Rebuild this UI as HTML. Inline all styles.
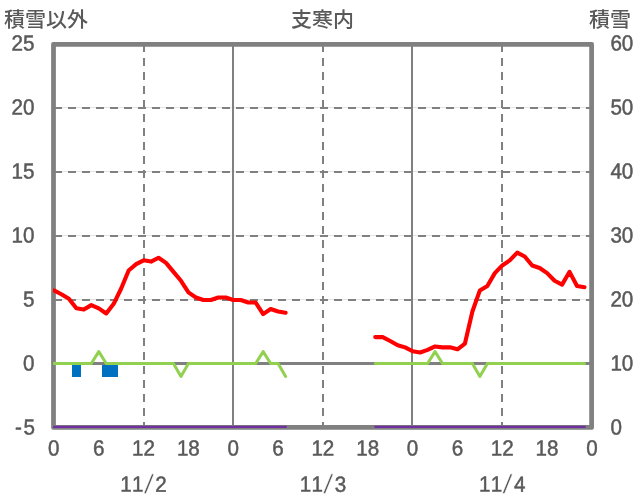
<!DOCTYPE html>
<html lang="ja">
<head>
<meta charset="utf-8">
<title>支寒内</title>
<style>
html,body{margin:0;padding:0;background:#fff;}
body{width:636px;height:501px;overflow:hidden;}
svg{display:block;}
text{font-family:"Liberation Sans","Noto Sans CJK JP",sans-serif;fill:#595959;text-rendering:geometricPrecision;font-kerning:none;}
text.n{stroke:#595959;stroke-width:0.5px;stroke-linejoin:round;}
text .s{stroke:#fff;stroke-width:0.5px;}
text.j{font-weight:500;text-rendering:auto;}
</style>
</head>
<body>
<svg width="636" height="501" viewBox="0 0 636 501">
<rect x="0" y="0" width="636" height="501" fill="#fff"/>
<line x1="54" x2="590" y1="107.5" y2="107.5" stroke="#e2e2e2" stroke-width="1"/>
<line x1="54" x2="590" y1="108" y2="108" stroke="#808080" stroke-width="2" stroke-dasharray="8 6"/>
<line x1="54" x2="590" y1="171.5" y2="171.5" stroke="#e2e2e2" stroke-width="1"/>
<line x1="54" x2="590" y1="172" y2="172" stroke="#808080" stroke-width="2" stroke-dasharray="8 6"/>
<line x1="54" x2="590" y1="235.5" y2="235.5" stroke="#e2e2e2" stroke-width="1"/>
<line x1="54" x2="590" y1="236" y2="236" stroke="#808080" stroke-width="2" stroke-dasharray="8 6"/>
<line x1="54" x2="590" y1="299.5" y2="299.5" stroke="#e2e2e2" stroke-width="1"/>
<line x1="54" x2="590" y1="300" y2="300" stroke="#808080" stroke-width="2" stroke-dasharray="8 6"/>
<line y1="44" y2="426" x1="144" x2="144" stroke="#808080" stroke-width="2" stroke-dasharray="8 6"/>
<line y1="44" y2="426" x1="323" x2="323" stroke="#808080" stroke-width="2" stroke-dasharray="8 6"/>
<line y1="44" y2="426" x1="502" x2="502" stroke="#808080" stroke-width="2" stroke-dasharray="8 6"/>
<line y1="44" y2="426" x1="233" x2="233" stroke="#808080" stroke-width="2"/>
<line y1="44" y2="426" x1="412" x2="412" stroke="#808080" stroke-width="2"/>
<rect x="72" y="363" width="9" height="14" fill="#0070C0"/>
<rect x="102" y="363" width="16" height="14" fill="#0070C0"/>
<line x1="54" x2="590" y1="363.5" y2="363.5" stroke="#808080" stroke-width="3"/>
<path fill="#808080" fill-rule="evenodd" d="M53.125 42.025H591.975A2.0 2.0 0 0 1 593.975 44.025V427.775A2.0 2.0 0 0 1 591.975 429.775H53.125A2.0 2.0 0 0 1 51.125 427.775V44.025A2.0 2.0 0 0 1 53.125 42.025ZM55.875 46.775V425.025H589.225V46.775Z"/>
<clipPath id="pc"><rect x="53.1" y="40" width="541" height="392"/></clipPath>
<g clip-path="url(#pc)" fill="none" stroke-linejoin="round" stroke-linecap="round">
<path d="M53.93 426.85H285.98M375.26 426.85H584.89" stroke="#7030A0" stroke-width="2.1"/>
<path d="M53.93 363.50 L61.40 363.50 L68.88 363.50 L76.35 363.50 L83.82 363.50 L91.29 363.50 L98.77 351.60 L106.24 363.50 L113.71 363.50 L121.18 363.50 L128.66 363.50 L136.13 363.50 L143.60 363.50 L151.08 363.50 L158.55 363.50 L166.02 363.50 L173.49 363.50 L180.97 376.50 L188.44 363.50 L195.91 363.50 L203.38 363.50 L210.86 363.50 L218.33 363.50 L225.80 363.50 L233.27 363.50 L240.75 363.50 L248.22 363.50 L255.69 363.50 L263.17 351.60 L270.64 363.50 L278.11 363.50 L285.58 376.50 M375.26 363.50 L382.73 363.50 L390.20 363.50 L397.67 363.50 L405.15 363.50 L412.62 363.50 L420.09 363.50 L427.56 363.50 L435.04 351.60 L442.51 363.50 L449.98 363.50 L457.46 363.50 L464.93 363.50 L472.40 363.50 L479.87 376.50 L487.35 363.50 L494.82 363.50 L502.29 363.50 L509.76 363.50 L517.24 363.50 L524.71 363.50 L532.18 363.50 L539.66 363.50 L547.13 363.50 L554.60 363.50 L562.07 363.50 L569.55 363.50 L577.02 363.50 L584.49 363.50" stroke="#92D050" stroke-width="3.0"/>
<path d="M53.93 290.40 L61.40 294.24 L68.88 298.72 L76.35 308.32 L83.82 309.60 L91.29 305.12 L98.77 308.32 L106.24 313.44 L113.71 303.84 L121.18 288.48 L128.66 270.56 L136.13 264.16 L143.60 260.32 L151.08 261.60 L158.55 257.76 L166.02 262.88 L173.49 271.84 L180.97 280.80 L188.44 292.32 L195.91 297.44 L203.38 300.00 L210.86 300.00 L218.33 297.44 L225.80 297.44 L233.27 300.00 L240.75 300.00 L248.22 302.56 L255.69 302.56 L263.17 314.08 L270.64 308.96 L278.11 311.52 L285.58 312.80 M375.26 337.12 L382.73 337.12 L390.20 340.96 L397.67 345.18 L405.15 347.36 L412.62 351.20 L420.09 352.48 L427.56 349.92 L435.04 346.46 L442.51 347.36 L449.98 347.36 L457.46 349.28 L464.93 343.52 L472.40 311.52 L479.87 290.40 L487.35 285.92 L494.82 273.12 L502.29 265.44 L509.76 260.32 L517.24 252.64 L524.71 256.48 L532.18 265.44 L539.66 268.00 L547.13 273.12 L554.60 280.80 L562.07 284.64 L569.55 271.84 L577.02 285.92 L584.49 287.20" stroke="#FF0000" stroke-width="4.1"/>
</g>
<text class="n" transform="translate(34.50 50.60) rotate(0.05) scale(0.945 1)" text-anchor="end" font-size="21.8">25</text>
<text class="n" transform="translate(34.50 114.60) rotate(0.05) scale(0.945 1)" text-anchor="end" font-size="21.8">20</text>
<text class="n" transform="translate(34.50 178.60) rotate(0.05) scale(0.945 1)" text-anchor="end" font-size="21.8">15</text>
<text class="n" transform="translate(34.50 242.60) rotate(0.05) scale(0.945 1)" text-anchor="end" font-size="21.8">10</text>
<text class="n" transform="translate(34.50 306.60) rotate(0.05) scale(0.945 1)" text-anchor="end" font-size="21.8">5</text>
<text class="n" transform="translate(34.50 370.60) rotate(0.05) scale(0.945 1)" text-anchor="end" font-size="21.8">0</text>
<text class="n" transform="translate(14.9 434.60) rotate(0.05) scale(0.945 1)" font-size="21.8" x="0 9.1">-5</text>
<text class="n" transform="translate(610.40 50.60) rotate(0.05) scale(0.945 1)" text-anchor="start" font-size="21.8">60</text>
<text class="n" transform="translate(610.40 114.60) rotate(0.05) scale(0.945 1)" text-anchor="start" font-size="21.8">50</text>
<text class="n" transform="translate(610.40 178.60) rotate(0.05) scale(0.945 1)" text-anchor="start" font-size="21.8">40</text>
<text class="n" transform="translate(610.40 242.60) rotate(0.05) scale(0.945 1)" text-anchor="start" font-size="21.8">30</text>
<text class="n" transform="translate(610.40 306.60) rotate(0.05) scale(0.945 1)" text-anchor="start" font-size="21.8">20</text>
<text class="n" transform="translate(610.40 370.60) rotate(0.05) scale(0.945 1)" text-anchor="start" font-size="21.8">10</text>
<text class="n" transform="translate(610.40 434.60) rotate(0.05) scale(0.945 1)" text-anchor="start" font-size="21.8">0</text>
<text class="n" transform="translate(53.83 455.60) rotate(0.05) scale(0.945 1)" text-anchor="middle" font-size="21.8">0</text>
<text class="n" transform="translate(98.67 455.60) rotate(0.05) scale(0.945 1)" text-anchor="middle" font-size="21.8">6</text>
<text class="n" transform="translate(143.50 455.60) rotate(0.05) scale(0.945 1)" text-anchor="middle" font-size="21.8">12</text>
<text class="n" transform="translate(188.34 455.60) rotate(0.05) scale(0.945 1)" text-anchor="middle" font-size="21.8">18</text>
<text class="n" transform="translate(233.17 455.60) rotate(0.05) scale(0.945 1)" text-anchor="middle" font-size="21.8">0</text>
<text class="n" transform="translate(278.01 455.60) rotate(0.05) scale(0.945 1)" text-anchor="middle" font-size="21.8">6</text>
<text class="n" transform="translate(322.85 455.60) rotate(0.05) scale(0.945 1)" text-anchor="middle" font-size="21.8">12</text>
<text class="n" transform="translate(367.68 455.60) rotate(0.05) scale(0.945 1)" text-anchor="middle" font-size="21.8">18</text>
<text class="n" transform="translate(412.52 455.60) rotate(0.05) scale(0.945 1)" text-anchor="middle" font-size="21.8">0</text>
<text class="n" transform="translate(457.36 455.60) rotate(0.05) scale(0.945 1)" text-anchor="middle" font-size="21.8">6</text>
<text class="n" transform="translate(502.19 455.60) rotate(0.05) scale(0.945 1)" text-anchor="middle" font-size="21.8">12</text>
<text class="n" transform="translate(547.03 455.60) rotate(0.05) scale(0.945 1)" text-anchor="middle" font-size="21.8">18</text>
<text class="n" transform="translate(591.86 455.60) rotate(0.05) scale(0.945 1)" text-anchor="middle" font-size="21.8">0</text>
<text class="n" transform="translate(120.30 491.6) rotate(0.05) scale(0.945 1)" font-size="21.8" x="0 12.5 25.0 37.04">11<tspan class="s" font-size="28" rotate="8" dy="1.5">/</tspan><tspan dy="-1.5">2</tspan></text>
<text class="n" transform="translate(299.65 491.6) rotate(0.05) scale(0.945 1)" font-size="21.8" x="0 12.5 25.0 37.04">11<tspan class="s" font-size="28" rotate="8" dy="1.5">/</tspan><tspan dy="-1.5">3</tspan></text>
<text class="n" transform="translate(478.99 491.6) rotate(0.05) scale(0.945 1)" font-size="21.8" x="0 12.5 25.0 37.04">11<tspan class="s" font-size="28" rotate="8" dy="1.5">/</tspan><tspan dy="-1.5">4</tspan></text>
<text class="j" transform="translate(4.00 27.00) scale(1.03 1)" text-anchor="start" font-size="20.4">積雪以外</text>
<text class="j" transform="translate(322.60 27.00) scale(1.03 1)" text-anchor="middle" font-size="20.4">支寒内</text>
<text class="j" transform="translate(631.00 27.00) scale(1.03 1)" text-anchor="end" font-size="20.4">積雪</text>
</svg>
</body>
</html>
